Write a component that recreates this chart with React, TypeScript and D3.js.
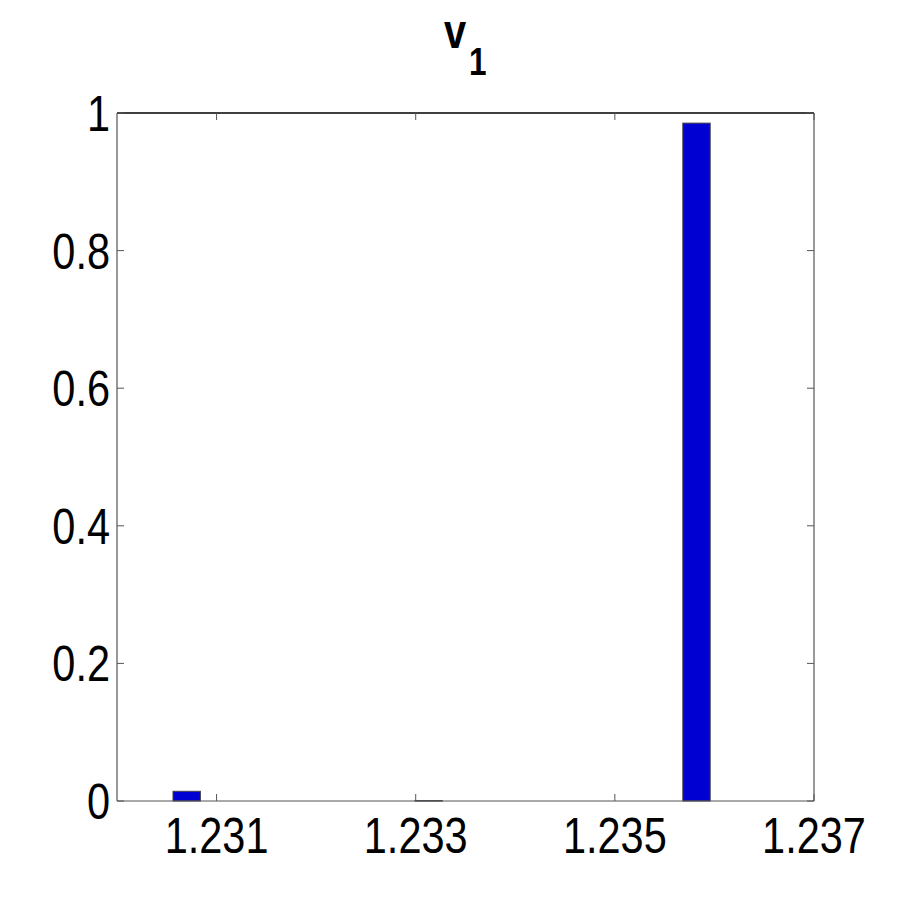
import React from "react";
import * as d3 from "d3";

// histogram of v1 (normalised frequencies)
const binCenters = [1.2307, 1.23313, 1.23582];
const frequencies = [0.0141, 0.0006, 0.9853];
const binWidth = 0.000275;
const xTicks = [1.231, 1.233, 1.235, 1.237];
const yTicks = [0, 0.2, 0.4, 0.6, 0.8, 1];

const width = 900;
const height = 900;
const margin = { top: 113, right: 86, bottom: 99, left: 117 };
const tickLen = 7;
const squeeze = 0.83;
const font = "'Liberation Sans', Arial, Helvetica, sans-serif";

export default function App() {
  const xScale = d3
    .scaleLinear()
    .domain([1.23, 1.237])
    .range([margin.left, width - margin.right]);
  const yScale = d3
    .scaleLinear()
    .domain([0, 1])
    .range([height - margin.bottom, margin.top]);

  const x0 = xScale.range()[0];
  const x1 = xScale.range()[1];
  const y0 = yScale.range()[0];
  const y1 = yScale.range()[1];

  const bars = binCenters.map((c, i) => ({
    x: xScale(c - binWidth / 2),
    w: xScale(c + binWidth / 2) - xScale(c - binWidth / 2),
    y: yScale(frequencies[i]),
    h: yScale(0) - yScale(frequencies[i])
  }));

  return (
    <svg
      width={width}
      height={height}
      style={{ position: "absolute", left: 0, top: 0, background: "#fff" }}
    >
      <rect width={width} height={height} fill="#fff" />
      {bars.map((d, i) => (
        <rect
          key={i}
          x={d.x}
          y={d.y}
          width={d.w}
          height={Math.max(d.h, 0.5)}
          fill="#0000d2"
          stroke="#444"
          strokeWidth={1}
        />
      ))}

      {/* box */}
      <line x1={x0} x2={x1} y1={y1} y2={y1} stroke="#000" strokeWidth={1.5} />
      <line x1={x0} x2={x1} y1={y0} y2={y0} stroke="#555" strokeWidth={1.2} />
      <line x1={x0} x2={x0} y1={y0} y2={y1} stroke="#555" strokeWidth={1.2} />
      <line x1={x1} x2={x1} y1={y0} y2={y1} stroke="#555" strokeWidth={1.2} />

      {xTicks.map(t => (
        <g key={"x" + t}>
          <line x1={xScale(t)} x2={xScale(t)} y1={y0} y2={y0 - tickLen} stroke="#555" />
          <line x1={xScale(t)} x2={xScale(t)} y1={y1} y2={y1 + tickLen} stroke="#555" />
          <text
            transform={`translate(${xScale(t)},${y0 + 52}) scale(${squeeze},1)`}
            textAnchor="middle"
            fontFamily={font}
            fontSize={50}
            fill="#000"
          >
            {d3.format(".3f")(t)}
          </text>
        </g>
      ))}

      {yTicks.map(t => (
        <g key={"y" + t}>
          <line x1={x0} x2={x0 + tickLen} y1={yScale(t)} y2={yScale(t)} stroke="#555" />
          <line x1={x1} x2={x1 - tickLen} y1={yScale(t)} y2={yScale(t)} stroke="#555" />
          <text
            transform={`translate(${x0 - 7},${yScale(t) + 18}) scale(${squeeze},1)`}
            textAnchor="end"
            fontFamily={font}
            fontSize={50}
            fill="#000"
          >
            {t === 0 || t === 1 ? String(t) : d3.format(".1f")(t)}
          </text>
        </g>
      ))}

      <text
        transform={`translate(444,48) scale(${squeeze},1)`}
        fontFamily={font}
        fontWeight="bold"
        fontSize={48}
        fill="#000"
      >
        v
      </text>
      <text
        transform={`translate(469,75) scale(${squeeze},1)`}
        fontFamily={font}
        fontWeight="bold"
        fontSize={38}
        fill="#000"
      >
        1
      </text>
    </svg>
  );
}
